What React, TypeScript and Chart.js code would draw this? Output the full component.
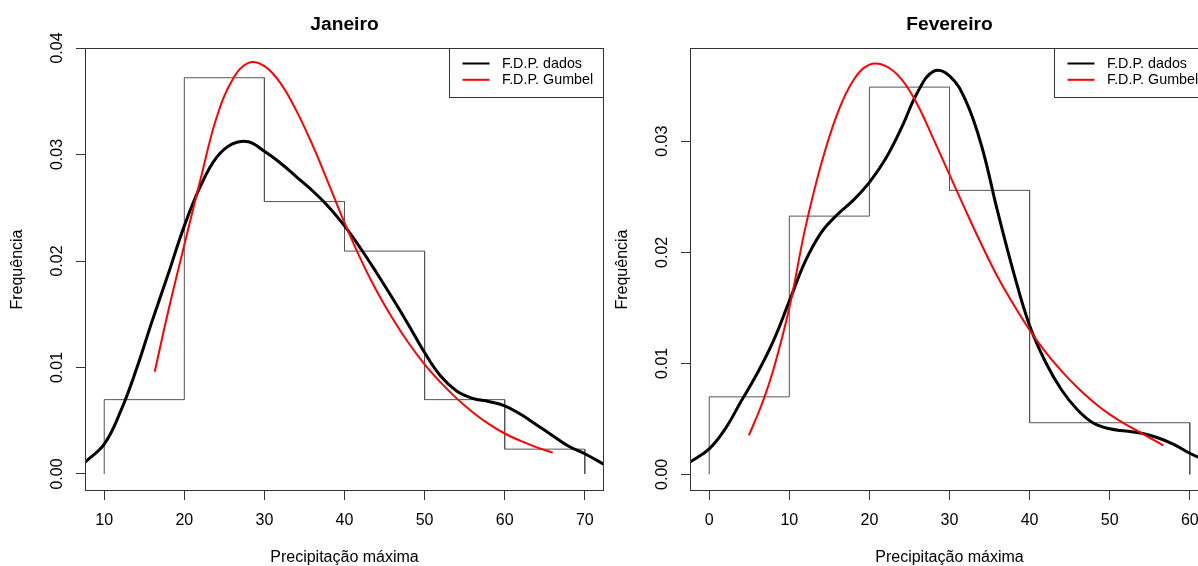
import React, { useEffect, useRef } from 'react';
import { Chart, registerables } from 'chart.js';

Chart.register(...registerables);

const FONT = "'Liberation Sans', Arial, Helvetica, sans-serif";

const seriesLabels = ['F.D.P. dados', 'F.D.P. Gumbel'];
const seriesColors = ['#000000', '#ff0000'];
const xAxisTitle = 'Precipitação máxima';
const yAxisTitle = 'Frequência';

// ---------- Janeiro ----------
const janTitle = 'Janeiro';
const janBreaks = [10, 20, 30, 40, 50, 60, 70];
const janDensity = [0.00698, 0.03721, 0.02558, 0.02093, 0.00698, 0.00233];
const janKdeX = [7.6, 10, 12, 14, 16, 18, 20, 22, 24, 26, 28, 30, 32, 34, 36, 38, 40, 42, 44, 46, 48, 50, 52, 54, 56, 58, 60, 62, 64, 66, 68, 70, 72.4];
const janKdeY = [0.0011, 0.0028, 0.0058, 0.0098, 0.0144, 0.0188, 0.0233, 0.0270, 0.0297, 0.0310, 0.0312, 0.0303, 0.0292, 0.0279, 0.0266, 0.0251, 0.0233, 0.0212, 0.0189, 0.0165, 0.0140, 0.0114, 0.0092, 0.0078, 0.0071, 0.0068, 0.0064, 0.0056, 0.0046, 0.0036, 0.0026, 0.0019, 0.0009];
const janGumbelX = [16.3, 18, 20, 22, 24, 26, 28, 30, 32, 34, 36, 38, 40, 42, 44, 46, 48, 50, 52, 54, 56, 58, 60, 62, 64, 66];
const janGumbelY = [0.0096, 0.0153, 0.0215, 0.0276, 0.0334, 0.0370, 0.0386, 0.0383, 0.0367, 0.0341, 0.0309, 0.0273, 0.0236, 0.0202, 0.0172, 0.0146, 0.0123, 0.0103, 0.0086, 0.0071, 0.0058, 0.0047, 0.0038, 0.0031, 0.0025, 0.0020];
const janXTicks = [10, 20, 30, 40, 50, 60, 70];
const janYTicks = [0, 0.01, 0.02, 0.03, 0.04];
const janXRange = [7.6, 72.4];
const janYRange = [-0.0016, 0.04];

// ---------- Fevereiro ----------
const fevTitle = 'Fevereiro';
const fevBreaks = [0, 10, 20, 30, 40, 50, 60];
const fevDensity = [0.00698, 0.02326, 0.03488, 0.02558, 0.00465, 0.00465];
const fevKdeX = [-2.4, 0, 2, 4, 6, 8, 10, 12, 14, 16, 18, 20, 22, 24, 26, 28, 30, 32, 34, 36, 38, 40, 42, 44, 46, 48, 50, 52, 54, 56, 58, 60, 62.4];
const fevKdeY = [0.0011, 0.0023, 0.0041, 0.0066, 0.0091, 0.0120, 0.0156, 0.0192, 0.0218, 0.0234, 0.0247, 0.0263, 0.0284, 0.0312, 0.0344, 0.0363, 0.0359, 0.0337, 0.0296, 0.0237, 0.0182, 0.0134, 0.0101, 0.0076, 0.0058, 0.0046, 0.0041, 0.0039, 0.0037, 0.0033, 0.0027, 0.0019, 0.0011];
const fevGumbelX = [4.95, 6.5, 8, 10, 12, 14, 16, 18, 20, 22, 24, 26, 28, 30, 32, 34, 36, 38, 40, 42, 44, 46, 48, 50, 52, 54, 56.7];
const fevGumbelY = [0.0035, 0.0062, 0.0094, 0.0150, 0.0222, 0.0280, 0.0325, 0.0355, 0.0369, 0.0368, 0.0356, 0.0333, 0.0302, 0.0270, 0.0238, 0.0207, 0.0178, 0.0153, 0.0130, 0.0110, 0.0093, 0.0078, 0.0065, 0.0054, 0.0045, 0.0037, 0.0026];
const fevXTicks = [0, 10, 20, 30, 40, 50, 60];
const fevYTicks = [0, 0.01, 0.02, 0.03];
const fevXRange = [-2.4, 62.4];
const fevYRange = [-0.0015, 0.0384];

const PANEL_W = 605;
const PANEL_H = 566;

// step outline of the histogram, built from the breaks and densities
function histOutline(breaks: number[], dens: number[]) {
  const pts = [{ x: breaks[0], y: 0 }];
  dens.forEach((d, i) => {
    pts.push({ x: breaks[i], y: d });
    pts.push({ x: breaks[i + 1], y: d });
  });
  pts.push({ x: breaks[breaks.length - 1], y: 0 });
  return pts;
}

function zip(xs: number[], ys: number[]) {
  return xs.map((x, i) => ({ x, y: ys[i] }));
}

const boxPlugin = {
  id: 'rBox',
  afterDatasetsDraw(chart: any) {
    const { ctx, chartArea } = chart;
    ctx.save();
    ctx.strokeStyle = '#333333';
    ctx.lineWidth = 1;
    const l = Math.round(chartArea.left) + 0.5;
    const t = Math.round(chartArea.top) + 0.5;
    const r = Math.round(chartArea.right) - 0.5;
    const b = Math.round(chartArea.bottom) - 0.5;
    ctx.strokeRect(l, t, r - l, b - t);
    ctx.restore();
  },
};

const legendPlugin = {
  id: 'rLegend',
  afterDraw(chart: any) {
    const { ctx, chartArea } = chart;
    const w = 154;
    const h = 49;
    const x0 = Math.round(chartArea.right) - w - 0.5;
    const y0 = Math.round(chartArea.top) + 0.5;
    ctx.save();
    ctx.fillStyle = '#ffffff';
    ctx.fillRect(x0, y0, w, h);
    ctx.strokeStyle = '#333333';
    ctx.lineWidth = 1;
    ctx.strokeRect(x0, y0, w, h);
    seriesLabels.forEach((lab, i) => {
      const y = y0 + 15 + i * 16.3;
      ctx.strokeStyle = seriesColors[i];
      ctx.lineWidth = 2;
      ctx.beginPath();
      ctx.moveTo(x0 + 13, y);
      ctx.lineTo(x0 + 40, y);
      ctx.stroke();
      ctx.fillStyle = '#000000';
      ctx.font = `14.3px ${FONT}`;
      ctx.textBaseline = 'middle';
      ctx.textAlign = 'left';
      ctx.fillText(lab, x0 + 52.5, y + 0.5);
    });
    ctx.restore();
  },
};

type PanelProps = {
  title: string;
  breaks: number[];
  density: number[];
  kdeX: number[];
  kdeY: number[];
  gumX: number[];
  gumY: number[];
  xTicks: number[];
  yTicks: number[];
  xRange: number[];
  yRange: number[];
};

function Panel(p: PanelProps) {
  const ref = useRef<HTMLCanvasElement | null>(null);
  useEffect(() => {
    if (!ref.current) return;
    const chart = new Chart(ref.current, {
      type: 'line',
      data: {
        datasets: [
          {
            label: seriesLabels[1],
            data: zip(p.gumX, p.gumY),
            borderColor: seriesColors[1],
            borderWidth: 2,
            pointRadius: 0,
            tension: 0.4,
            fill: false,
            order: 1,
          },
          {
            label: seriesLabels[0],
            data: zip(p.kdeX, p.kdeY),
            borderColor: seriesColors[0],
            borderWidth: 3,
            pointRadius: 0,
            tension: 0.4,
            borderJoinStyle: 'round',
            borderCapStyle: 'round',
            fill: false,
            order: 2,
          },
          {
            label: 'hist',
            data: histOutline(p.breaks, p.density),
            borderColor: '#555555',
            borderWidth: 1,
            pointRadius: 0,
            tension: 0,
            fill: false,
            order: 3,
          },
        ],
      } as any,
      options: {
        responsive: false,
        animation: false,
        events: [],
        layout: { padding: { left: 0, right: 1, top: 0, bottom: 0 } },
        plugins: {
          legend: { display: false },
          tooltip: { enabled: false },
          title: {
            display: true,
            text: p.title,
            color: '#000000',
            fullSize: false,
            font: { family: FONT, size: 19.2, weight: 'bold', lineHeight: 1.2 },
            padding: { top: 13.5, bottom: 11.5 },
          },
        },
        scales: {
          x: {
            type: 'linear',
            position: 'bottom',
            min: p.xRange[0],
            max: p.xRange[1],
            afterBuildTicks: (s: any) => {
              s.ticks = p.xTicks.map((v) => ({ value: v }));
            },
            afterFit: (s: any) => {
              s.height = 75;
            },
            ticks: {
              color: '#000000',
              font: { family: FONT, size: 16 },
              padding: 11,
              maxRotation: 0,
              minRotation: 0,
              callback: (v: any) => String(v),
            },
            grid: { drawOnChartArea: false, drawTicks: true, tickLength: 9, color: '#333333', lineWidth: 1 },
            border: { display: false },
            title: {
              display: true,
              text: xAxisTitle,
              color: '#000000',
              font: { family: FONT, size: 16, lineHeight: 1 },
              padding: { top: 0, bottom: 0 },
            },
          },
          y: {
            type: 'linear',
            position: 'left',
            min: p.yRange[0],
            max: p.yRange[1],
            afterBuildTicks: (s: any) => {
              s.ticks = p.yTicks.map((v) => ({ value: v }));
            },
            afterFit: (s: any) => {
              s.width = 85;
            },
            ticks: {
              color: '#000000',
              font: { family: FONT, size: 16 },
              padding: 2.4,
              minRotation: 90,
              maxRotation: 90,
              crossAlign: 'center',
              callback: (v: any) => Number(v).toFixed(2),
            },
            grid: { drawOnChartArea: false, drawTicks: true, tickLength: 9, color: '#333333', lineWidth: 1 },
            border: { display: false },
            title: {
              display: true,
              text: yAxisTitle,
              color: '#000000',
              font: { family: FONT, size: 16, lineHeight: 1 },
              padding: { top: 9.2, bottom: 0 },
            },
          },
        },
      } as any,
      plugins: [boxPlugin, legendPlugin],
    });
    return () => chart.destroy();
  }, []);
  return <canvas ref={ref} width={PANEL_W} height={PANEL_H} style={{ display: 'block', width: PANEL_W, height: PANEL_H }} />;
}

export default function App() {
  return (
    <div
      style={{
        position: 'fixed',
        left: 0,
        top: 0,
        width: 1198,
        height: 566,
        overflow: 'hidden',
        background: '#ffffff',
      }}
    >
      <div style={{ position: 'absolute', left: 0, top: 0, width: PANEL_W, height: PANEL_H }}>
        <Panel
          title={janTitle}
          breaks={janBreaks}
          density={janDensity}
          kdeX={janKdeX}
          kdeY={janKdeY}
          gumX={janGumbelX}
          gumY={janGumbelY}
          xTicks={janXTicks}
          yTicks={janYTicks}
          xRange={janXRange}
          yRange={janYRange}
        />
      </div>
      <div style={{ position: 'absolute', left: PANEL_W, top: 0, width: PANEL_W, height: PANEL_H }}>
        <Panel
          title={fevTitle}
          breaks={fevBreaks}
          density={fevDensity}
          kdeX={fevKdeX}
          kdeY={fevKdeY}
          gumX={fevGumbelX}
          gumY={fevGumbelY}
          xTicks={fevXTicks}
          yTicks={fevYTicks}
          xRange={fevXRange}
          yRange={fevYRange}
        />
      </div>
    </div>
  );
}
